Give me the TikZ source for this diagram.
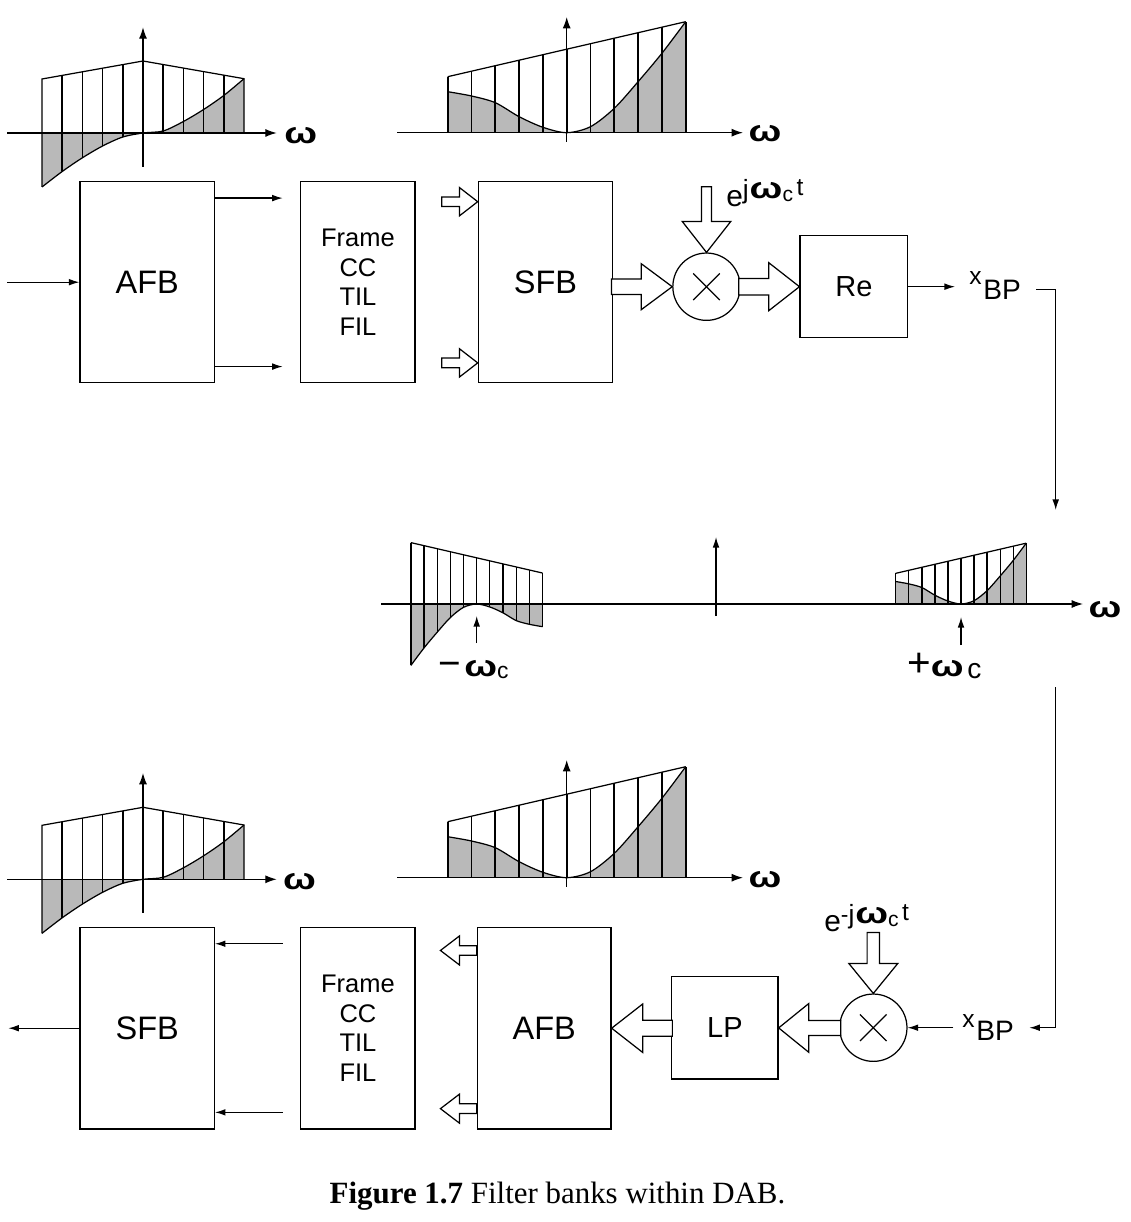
\documentclass[tikz,border=0pt]{standalone}
\usepackage{fontspec}
\usepackage{graphicx}
\setmainfont{Liberation Sans}
\newfontfamily\capfont{Liberation Serif}
\usetikzlibrary{arrows.meta,calc}
\definecolor{grayfill}{RGB}{185,185,185}
\newcommand\fsz[1]{\fontsize{#1}{#1}\selectfont}
\newcommand\om{\scalebox{1.3}[1]{\bfseries ω}}
\tikzset{
 blk/.style={draw, line width=0.7pt, inner sep=0pt, align=center},
 mult/.style={draw, circle, line width=0.7pt, minimum size=1.347cm, inner sep=0pt},
 arr/.style={line width=0.7pt, -{Latex[length=6pt,width=3.8pt]}},
 axisarr/.style={line width=0.7pt, -{Latex[length=6.5pt,width=4.6pt]}},
 hol/.style={draw, fill=white, line width=0.7pt, line join=miter},
 comb/.style={line width=1pt},
 env/.style={line width=0.7pt},
 lbl/.style={inner sep=0pt},
}
% hollow arrow pointing along +x with tip at origin
\newcommand\hollow[5]{%
 \draw[hol,#1] (0,0) -- (-#5,#4) -- (-#5,#3) -- (-#2,#3) -- (-#2,-#3) -- (-#5,-#3) -- (-#5,-#4) -- cycle;}
% spectrum type A (local coords, v up)
\newcommand\specA{%
 \fill[grayfill] (-101,0) -- plot[smooth] coordinates {(-101,-54) (-80.8,-38.5) (-60.6,-24.8) (-40.4,-13) (-20.2,-4) (0,0) (20.2,2) (40.4,11.5) (60.6,23.5) (80.8,37.5) (101,54.3)} -- (101,0) -- cycle;
 \foreach \u/\e/\b in {-80.8/57.6/-38.5, -60.6/61.2/-24.8, -40.4/64.8/-13, -20.2/68.4/-4, 0/72/0, 20.2/68.5/0, 40.4/64.9/0, 60.6/61.4/0, 80.8/57.8/0}
   {\draw[comb] (\u,\b) -- (\u,\e);}
 \draw[env] plot[smooth] coordinates {(-101,-54) (-80.8,-38.5) (-60.6,-24.8) (-40.4,-13) (-20.2,-4) (0,0) (20.2,2) (40.4,11.5) (60.6,23.5) (80.8,37.5) (101,54.3)};
 \draw[env] (-101,-54) -- (-101,54) -- (0,72) -- (101,54.3) -- (101,0);
}
% spectrum type B (local coords, v up), #1 = sign of shaded part
\newcommand\specB[1]{%
 \begin{scope}[yscale=#1]
 \fill[grayfill] (-119,0) -- plot[smooth] coordinates {(-119,41) (-95.2,36.7) (-71.4,30) (-47.6,16) (-23.8,5.4) (0,0) (23.8,6) (47.6,24.4) (71.4,51) (95.2,79.4) (119,111)} -- (119,0) -- cycle;
 \end{scope}
 \foreach \u/\e/\g in {-119/56/41, -95.2/61.5/36.7, -71.4/67/30, -47.6/72.5/16, -23.8/78/5.4, 0/83.5/0, 23.8/89/6, 47.6/94.5/24.4, 71.4/100/51, 95.2/105.5/79.4, 119/111/111}
   {\pgfmathsetmacro\bot{min(0,#1*\g)}\draw[comb] (\u,\bot) -- (\u,\e);}
 \begin{scope}[yscale=#1]
 \draw[env] plot[smooth] coordinates {(-119,41) (-95.2,36.7) (-71.4,30) (-47.6,16) (-23.8,5.4) (0,0) (23.8,6) (47.6,24.4) (71.4,51) (95.2,79.4) (119,111)};
 \end{scope}
 \draw[env] (-119,56) -- (119,111);
}
\begin{document}
\begin{tikzpicture}[x=0.02cm,y=-0.02cm]
\useasboundingbox (0,0) rectangle (1130,1222);

% ---------- spectra ----------
\begin{scope}[shift={(143,133)},yscale=-1] \specA \end{scope}
\draw[axisarr] (7.3,133) -- (276.7,133);
\draw[axisarr] (143,166.7) -- (143,27.3);
\node[lbl] (w1) at (300.8,135.8) {\fsz{17}\om};

\begin{scope}[shift={(566.7,132.7)},yscale=-1] \specB{1} \end{scope}
\draw[axisarr] (397,132.7) -- (743,132.7);
\draw[axisarr] (566.7,141.7) -- (566.7,17);
\node[lbl] (w2) at (765,133.7) {\fsz{17}\om};

\begin{scope}[shift={(143,879.3)},yscale=-1] \specA \end{scope}
\draw[axisarr] (7.3,879.3) -- (276.7,879.3);
\draw[axisarr] (143,912.7) -- (143,773);
\node[lbl] (w3) at (299.5,881.5) {\fsz{17}\om};

\begin{scope}[shift={(566.7,877.7)},yscale=-1] \specB{1} \end{scope}
\draw[axisarr] (397,877.7) -- (743,877.7);
\draw[axisarr] (566.7,886.7) -- (566.7,760);
\node[lbl] (w4) at (765,879.5) {\fsz{17}\om};

% middle spectrum
\begin{scope}[shift={(476.7,604)},xscale=-0.553,yscale=-0.553,comb/.style={line width=0.7pt}] \specB{-1} \end{scope}
\begin{scope}[shift={(961,604)},xscale=0.548,yscale=-0.548,comb/.style={line width=0.7pt}] \specB{1} \end{scope}
\draw[axisarr] (381,604) -- (1083,604);
\draw[arr] (716,616) -- (716,537);
\draw[arr] (476.7,643) -- (476.7,616);
\draw[arr] (961,645) -- (961,617);
\node[lbl] (w5) at (1105,609.5) {\fsz{17}\om};
\node[lbl,anchor=base west] (wneg) at (438,676.7) {{\fsz{22}−}\kern2pt{\fsz{17}\om}{\fsz{13}\raisebox{-1pt}{c}}};
\node[lbl,anchor=base west] (wpos) at (907,676.7) {{\fsz{23}+}{\fsz{17}\om}\kern2pt{\fsz{16}\raisebox{-1pt}{c}}};

% ---------- upper chain ----------
\node[blk, minimum width=2.686cm, minimum height=4.02cm, font=\fsz{18.5}] (AFB1) at (147.2,282.2) {AFB};
\node[blk, minimum width=2.286cm, minimum height=4.02cm, font=\fontsize{14.5}{17}\selectfont] (Frame1) at (357.9,282.2) {Frame\\CC\\TIL\\FIL};
\node[blk, minimum width=2.688cm, minimum height=4.02cm, font=\fsz{18.5}] (SFB1) at (545.5,282.2) {SFB};
\node[mult] (Mul1) at (706.5,286.7) {};
\node[blk, minimum width=2.154cm, minimum height=2.04cm, font=\fsz{16.5}] (Re) at (853.9,286.7) {Re};

\coordinate (in1) at (7.3,282.2);
\draw[arr] (in1) -- (AFB1.west);
\draw[arr] ($(AFB1.north east)+(0,17)$) -- ($(Frame1.north west)+(-17.4,17)$);
\draw[arr] ($(AFB1.south east)+(0,-16.7)$) -- ($(Frame1.south west)+(-17.4,-16.7)$);
\hollow{shift={($(SFB1.north west)+(0,20.6)$)}}{36}{4.8}{14.2}{18.3}
\hollow{shift={($(SFB1.south west)+(0,-20.4)$)}}{36}{4.8}{14.2}{18.3}
\hollow{shift={(Mul1.west)}}{60.7}{7.7}{23}{31}
\hollow{shift={(Re.west)}}{60.7}{8.3}{24}{30.7}
\hollow{shift={(Mul1.north)},rotate=-90}{65.7}{5}{24.3}{31}
\draw[line width=0.7pt] ($(Mul1)+(-13.3,-13.3)$) -- ($(Mul1)+(13.3,13.3)$);
\draw[line width=0.7pt] ($(Mul1)+(-13.3,13.3)$) -- ($(Mul1)+(13.3,-13.3)$);
\node[lbl,anchor=base west] (ej1) at (726,206.7)
  {{\fsz{17}e}\raisebox{4.5pt}{\fsz{15}j\kern0.5pt{\fsz{17}\om}}{\fsz{12}\raisebox{3pt}{c}}\kern2pt\raisebox{6.5pt}{\fsz{14}t}};

\coordinate (xo1) at (955,286.7);
\draw[arr] (Re.east) -- (xo1);
\node[lbl,anchor=base west] (xbp1) at (969,285) {{\fsz{14}x}\kern1pt\raisebox{-8.5pt}{\fsz{16}BP}};
\coordinate (c1) at (1036,289.3);
\coordinate (c2) at (1055.7,510);
\draw[arr] (c1) -| (c2);

% ---------- lower chain ----------
\coordinate (c3) at (1055.7,687);
\coordinate (c4) at (1029.3,1027.7);
\draw[arr] (c3) |- (c4);
\node[lbl,anchor=base west] (xbp2) at (962,1027.7) {{\fsz{14}x}\kern1pt\raisebox{-7.4pt}{\fsz{16}BP}};

\node[blk, minimum width=2.686cm, minimum height=4.034cm, font=\fsz{18.5}] (SFB2) at (147.2,1028.2) {SFB};
\node[blk, minimum width=2.286cm, minimum height=4.034cm, font=\fontsize{14.5}{17}\selectfont] (Frame2) at (357.9,1028.2) {Frame\\CC\\TIL\\FIL};
\node[blk, minimum width=2.674cm, minimum height=4.034cm, font=\fsz{18.5}] (AFB2) at (544.2,1028.2) {AFB};
\node[blk, minimum width=2.126cm, minimum height=2.046cm, font=\fsz{16.5}] (LP) at (724.9,1027.9) {LP};
\node[mult] (Mul2) at (873.3,1027.7) {};
\draw[line width=0.7pt] ($(Mul2)+(-13.3,-13.3)$) -- ($(Mul2)+(13.3,13.3)$);
\draw[line width=0.7pt] ($(Mul2)+(-13.3,13.3)$) -- ($(Mul2)+(13.3,-13.3)$);

\coordinate (xi2) at (953.3,1027.7);
\draw[arr] (xi2) -- (Mul2.east);
\hollow{shift={(Mul2.north)},rotate=-90}{61}{6.2}{24.5}{30}
\node[lbl,anchor=base west] (ej2) at (824,931.7)
  {{\fsz{17}e}\raisebox{5.5pt}{\fsz{13}-}\raisebox{4.5pt}{\fsz{15}j\kern0.5pt{\fsz{17}\om}}{\fsz{12}\raisebox{3pt}{c}}\kern2pt\raisebox{6.5pt}{\fsz{14}t}};
\hollow{shift={(LP.east)},xscale=-1}{62}{7.5}{24.3}{30}
\hollow{shift={(AFB2.east)},xscale=-1}{60.7}{8}{24.2}{31}
\hollow{shift={($(AFB2.north west)+(-36.3,23.7)$)},xscale=-1}{36.3}{4.8}{14.5}{19}
\hollow{shift={($(AFB2.south west)+(-36.3,-21)$)},xscale=-1}{36.3}{4.8}{14.5}{19}

\draw[arr] ($(Frame2.north west)+(-17.4,17)$) -- ($(SFB2.north east)+(0,17)$);
\draw[arr] ($(Frame2.south west)+(-17.4,-17.3)$) -- ($(SFB2.south east)+(0,-17.3)$);
\coordinate (out2) at (8.3,1028.2);
\draw[arr] (SFB2.west) -- (out2);

% caption
\node[font=\capfont\fsz{17.6}, anchor=base, inner sep=0pt] (cap) at (557.5,1203) {\textbf{Figure 1.7} Filter banks within DAB.};
\end{tikzpicture}
\end{document}
